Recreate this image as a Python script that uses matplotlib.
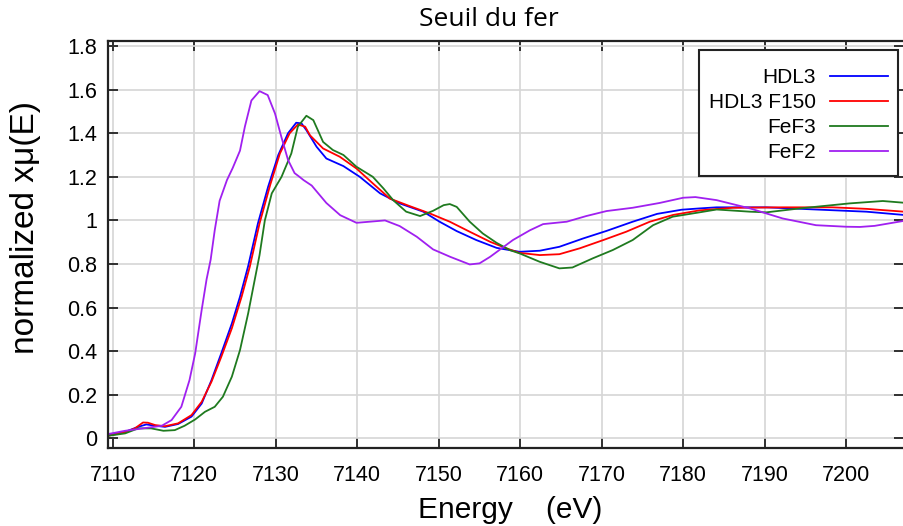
import numpy as np
import matplotlib.pyplot as plt
from matplotlib.patches import Rectangle

# XANES spectra, Fe K-edge
e_hdl3 = [7109.4, 7111.5, 7113.1, 7114.1, 7115.2, 7116.4, 7118.0, 7119.65, 7120.9, 7122.1,
          7123.3, 7124.6, 7125.6, 7126.6, 7127.8, 7129.05, 7130.3, 7131.5, 7132.5, 7133.15,
          7133.75, 7135.0, 7136.2, 7138.3, 7140.3, 7142.8, 7145.2, 7148.1, 7150.1, 7152.2,
          7154.6, 7157.1, 7159.9, 7162.4, 7164.8, 7167.7, 7170.6, 7173.8, 7176.8, 7179.8,
          7182.0, 7184.1, 7190.2, 7196.3, 7202.5, 7207.1]
mu_hdl3 = [0.015, 0.03, 0.053, 0.064, 0.058, 0.053, 0.066, 0.1, 0.16, 0.267,
           0.39, 0.527, 0.65, 0.79, 0.986, 1.154, 1.3, 1.4, 1.448, 1.445,
           1.414, 1.338, 1.284, 1.249, 1.2, 1.124, 1.078, 1.04, 0.994, 0.951,
           0.91, 0.874, 0.856, 0.861, 0.879, 0.917, 0.952, 0.994, 1.03, 1.049,
           1.055, 1.06, 1.06, 1.05, 1.04, 1.025]

e_f150 = [7109.4, 7111.5, 7112.7, 7113.7, 7114.3, 7115.2, 7116.4, 7118.0, 7119.65, 7120.9,
          7122.1, 7123.3, 7124.6, 7125.8, 7126.8, 7128.0, 7129.3, 7130.5, 7131.7, 7132.7,
          7133.6, 7134.2, 7135.8, 7137.85, 7139.9, 7141.9, 7144.0, 7146.4, 7148.9, 7151.35,
          7153.8, 7156.3, 7158.3, 7159.9, 7162.4, 7164.8, 7167.3, 7170.2, 7173.0, 7175.9,
          7178.75, 7182.0, 7186.1, 7192.2, 7198.3, 7202.5, 7207.1]
mu_f150 = [0.012, 0.028, 0.046, 0.073, 0.072, 0.061, 0.056, 0.069, 0.107, 0.168,
           0.26, 0.374, 0.505, 0.65, 0.787, 0.986, 1.162, 1.307, 1.4, 1.44,
           1.43, 1.39, 1.33, 1.292, 1.238, 1.17, 1.1, 1.066, 1.032, 0.994,
           0.948, 0.902, 0.872, 0.851, 0.841, 0.845, 0.872, 0.91, 0.948, 0.994,
           1.025, 1.046, 1.058, 1.06, 1.06, 1.053, 1.04]

e_fef3 = [7109.4, 7111.5, 7113.1, 7114.7, 7116.2, 7117.6, 7118.8, 7120.1, 7121.3, 7122.5,
          7123.5, 7124.6, 7125.6, 7126.6, 7127.4, 7128.0, 7128.65, 7129.5, 7130.7, 7131.9,
          7132.7, 7133.75, 7134.6, 7135.8, 7137.0, 7138.3, 7139.9, 7141.9, 7143.2, 7144.4,
          7146.0, 7147.7, 7149.3, 7150.6, 7151.35, 7152.2, 7153.8, 7155.4, 7157.1, 7158.7,
          7159.9, 7162.4, 7164.8, 7166.4, 7168.9, 7171.35, 7173.8, 7176.3, 7178.7, 7182.0,
          7184.1, 7188.2, 7190.2, 7194.3, 7200.4, 7204.5, 7207.1]
mu_fef3 = [0.012, 0.023, 0.046, 0.046, 0.035, 0.038, 0.058, 0.087, 0.122, 0.145,
           0.191, 0.283, 0.405, 0.573, 0.726, 0.841, 1.0, 1.124, 1.2, 1.307,
           1.43, 1.48, 1.46, 1.36, 1.323, 1.3, 1.246, 1.2, 1.147, 1.093,
           1.04, 1.02, 1.044, 1.07, 1.075, 1.062, 0.994, 0.94, 0.897, 0.864,
           0.849, 0.81, 0.78, 0.784, 0.826, 0.864, 0.91, 0.978, 1.017, 1.037,
           1.05, 1.04, 1.037, 1.055, 1.078, 1.089, 1.081]

e_fef2 = [7109.4, 7111.5, 7113.5, 7116.0, 7117.2, 7118.4, 7119.4, 7120.1, 7120.9, 7121.5,
          7122.0, 7122.5, 7123.1, 7124.0, 7124.7, 7125.6, 7126.2, 7127.0, 7128.0, 7129.0,
          7129.9, 7130.7, 7131.5, 7132.3, 7132.9, 7133.4, 7134.4, 7136.2, 7137.9, 7139.9,
          7141.5, 7143.4, 7145.2, 7147.3, 7149.3, 7151.4, 7153.8, 7155.0, 7156.3, 7157.5,
          7159.1, 7161.2, 7162.8, 7165.7, 7168.1, 7170.6, 7173.8, 7177.1, 7180.0, 7181.5,
          7184.1, 7188.2, 7192.2, 7196.3, 7200.0, 7201.7, 7203.5, 7207.1]
mu_fef2 = [0.02, 0.035, 0.045, 0.058, 0.084, 0.145, 0.267, 0.39, 0.59, 0.73,
           0.82, 0.955, 1.09, 1.185, 1.24, 1.32, 1.43, 1.55, 1.593, 1.575,
           1.49, 1.38, 1.277, 1.217, 1.2, 1.185, 1.16, 1.08, 1.024, 0.989,
           0.994, 1.0, 0.974, 0.925, 0.867, 0.833, 0.798, 0.803, 0.833, 0.866,
           0.91, 0.955, 0.983, 0.994, 1.02, 1.043, 1.058, 1.08, 1.104, 1.107,
           1.093, 1.055, 1.009, 0.978, 0.971, 0.97, 0.975, 0.998]

labels = ["HDL3", "HDL3 F150", "FeF3", "FeF2"]
colors = ["#0000ff", "#ff0000", "#1f7a1f", "#a020f0"]
x_ticks = [7110, 7120, 7130, 7140, 7150, 7160, 7170, 7180, 7190, 7200]
y_ticks = [0, 0.2, 0.4, 0.6, 0.8, 1, 1.2, 1.4, 1.6, 1.8]

plt.rcParams['font.family'] = ['Liberation Sans', 'DejaVu Sans']

fig = plt.figure(figsize=(9.04, 5.26), dpi=100)
ax = fig.add_axes([108 / 904, 1 - 448 / 526, 1 - 108 / 904, (448 - 41) / 526])

series = [(e_hdl3, mu_hdl3), (e_f150, mu_f150), (e_fef3, mu_fef3), (e_fef2, mu_fef2)]
for (e, mu), lab, col in zip(series, labels, colors):
    ax.plot(e, mu, color=col, lw=1.3, label=lab)

ax.set_xlim(7109.4, 7207.1)
ax.set_ylim(-0.044, 1.823)
ax.set_xticks(x_ticks)
ax.set_yticks(y_ticks)
ax.set_yticklabels([f"{v:g}" for v in y_ticks])
ax.grid(True, color="#d6d6d6", lw=1.2)
ax.set_axisbelow(True)
ax.tick_params(direction="in", length=7, width=1.3, labelsize=15.5,
               top=True, right=True, color="#222222")
ax.tick_params(axis="x", pad=12)
ax.tick_params(axis="y", pad=8)
for side in ["left", "bottom", "top"]:
    ax.spines[side].set_linewidth(1.6)
    ax.spines[side].set_color("#222222")
ax.spines["right"].set_visible(False)

# legend box: white frame drawn separately (taller padding than matplotlib gives)
box = Rectangle((699 / 904, 1 - 176 / 526), 199 / 904, 126 / 526, transform=fig.transFigure,
                facecolor="white", edgecolor="#222222", lw=1.5, zorder=4, clip_on=False)
ax.add_artist(box)
leg = ax.legend(loc="center", bbox_to_anchor=(798.5 / 904, 1 - 115 / 526),
                bbox_transform=fig.transFigure, markerfirst=False, fontsize=15,
                handlelength=2.8, labelspacing=0.29, borderaxespad=0, borderpad=0.3,
                handletextpad=0.7, frameon=False)
leg.set_zorder(5)

fig.text(489 / 904, 1 - 20 / 526, "Seuil du fer", family="Open Sans", fontsize=19,
         ha="center", va="center")
fig.text(26 / 904, 1 - 228 / 526, "normalized x\u03bc(E)", fontsize=24, rotation=90,
         ha="center", va="center")
fig.text(510 / 904, 1 - 510 / 526, "Energy    (eV)", fontsize=21.5, ha="center", va="center")

fig.savefig("out.png", dpi=100)
